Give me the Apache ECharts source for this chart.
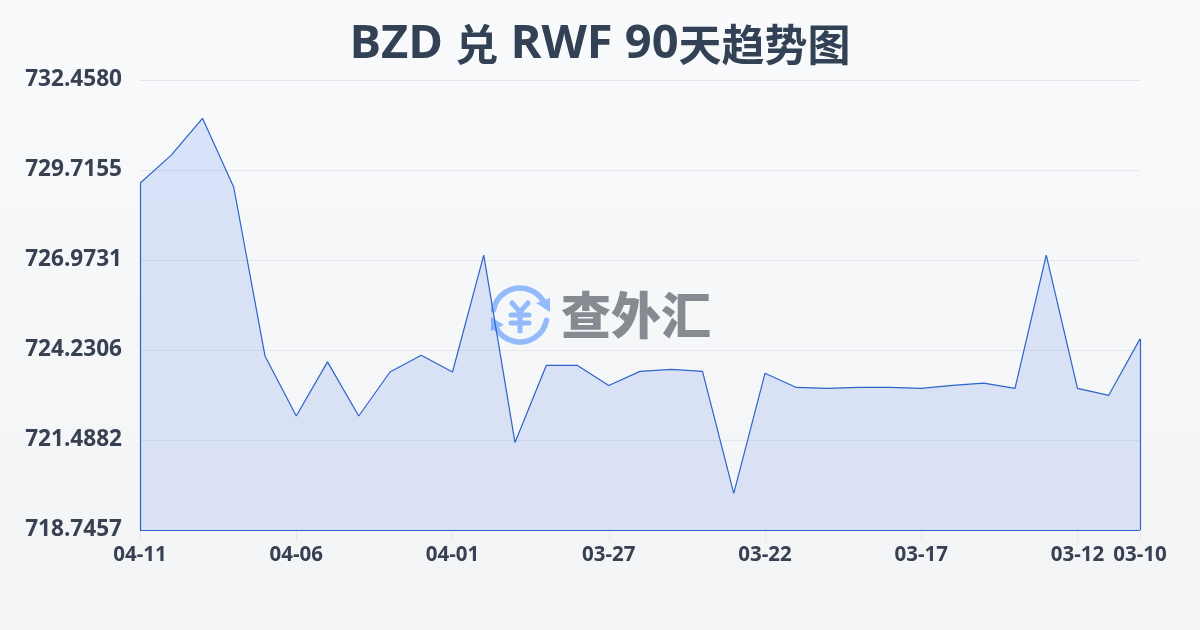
<!DOCTYPE html>
<html>
<head>
<meta charset="utf-8">
<style>html,body{margin:0;padding:0;background:#f8fafc}#c{width:1200px;height:630px}</style>
<script src="https://cdn.jsdelivr.net/npm/echarts@6/dist/echarts.min.js"></script>
</head>
<body>
<div id="c"></div>
<script>
const titleParts = [['a','BZD '],['b','兑'],['a',' RWF 90'],['b','天趋势图']];
const watermarkText = '查外汇';
const categories = ['04-11','04-10','04-09','04-08','04-07','04-06','04-05','04-04','04-03','04-02','04-01',
  '03-31','03-30','03-29','03-28','03-27','03-26','03-25','03-24','03-23','03-22',
  '03-21','03-20','03-19','03-18','03-17','03-16','03-15','03-14','03-13','03-12','03-11','03-10'];
const rates = [729.31,730.17,731.29,729.19,724.05,722.22,723.87,722.22,723.56,724.07,723.56,
  727.12,721.41,723.76,723.76,723.15,723.58,723.64,723.58,719.86,723.52,
  723.09,723.06,723.09,723.09,723.06,723.15,723.22,723.06,727.12,723.06,722.85,724.57];
const yMin = 718.7457;
const yMax = 732.4580;
const yStep = 2.74246;
const shownLabels = ['04-11','04-06','04-01','03-27','03-22','03-17','03-12','03-10'];

const textColor = '#374151';
const titleColor = '#334155';
const lineColor = '#2d64c8';
const logoBlue = '#93bbfb';
const chart = echarts.init(document.getElementById('c'), null, {renderer:'canvas'});
const first = categories[0], last = categories[categories.length-1];
const edge = {lineStyle:{color:lineColor,width:1.2,type:'solid'}};
chart.setOption({
  animation:false,
  backgroundColor:new echarts.graphic.LinearGradient(0,0,0,1,[{offset:0,color:'#f8fafc'},{offset:1,color:'#f3f4f6'}]),
  title:{text:titleParts.map(p=>`{${p[0]}|${p[1]}}`).join(''),left:'center',top:10,itemGap:0,
    textStyle:{rich:{
      a:{fontFamily:'"Open Sans",sans-serif',fontSize:47,fontWeight:'bold',color:titleColor,lineHeight:60},
      b:{fontFamily:'"Noto Sans CJK SC",sans-serif',fontSize:43,fontWeight:'bold',color:titleColor,lineHeight:60}
    }}},
  grid:{left:140,right:60,top:80,bottom:100,containLabel:false},
  xAxis:{type:'category',data:categories,boundaryGap:false,
    axisLine:{show:false},
    axisTick:{show:true,length:11,lineStyle:{color:'#e5e7eb',width:1},
      interval:(i,v)=>shownLabels.includes(v)},
    axisLabel:{show:true,margin:15,interval:(i,v)=>shownLabels.includes(v),hideOverlap:false,
      fontFamily:'"Open Sans",sans-serif',fontSize:20.5,fontWeight:'bold',color:textColor},
    splitLine:{show:false}},
  yAxis:{type:'value',min:yMin,max:yMax,interval:yStep,
    axisLine:{show:false},axisTick:{show:false},
    axisLabel:{margin:18,fontFamily:'"Open Sans",sans-serif',fontSize:22.6,fontWeight:'bold',color:textColor,
      padding:[0,0,3,0],formatter:v=>v.toFixed(4)},
    splitLine:{show:true,lineStyle:{color:'#e5e7eb',width:1}}},
  graphic:[{type:'group',z:0,zlevel:0,silent:true,children:[
    {type:'arc',shape:{cx:520,cy:315,r:27,startAngle:-2.95,endAngle:-0.35},style:{stroke:logoBlue,lineWidth:5.5,fill:null,lineCap:'round'}},
    {type:'arc',shape:{cx:520,cy:315,r:27,startAngle:0.2,endAngle:2.75},style:{stroke:logoBlue,lineWidth:5.5,fill:null,lineCap:'round'}},
    {type:'polygon',shape:{points:[[550,298],[550,312],[536,303]]},style:{fill:logoBlue}},
    {type:'polygon',shape:{points:[[491,317],[491,331],[504,325]]},style:{fill:logoBlue}},
    {type:'polyline',shape:{points:[[512,303],[520,312],[528,303]]},style:{stroke:logoBlue,lineWidth:5,fill:null,lineCap:'round'}},
    {type:'line',shape:{x1:511,y1:315,x2:529,y2:315},style:{stroke:logoBlue,lineWidth:5,lineCap:'round'}},
    {type:'line',shape:{x1:511,y1:323,x2:529,y2:323},style:{stroke:logoBlue,lineWidth:5,lineCap:'round'}},
    {type:'line',shape:{x1:520,y1:312,x2:520,y2:331},style:{stroke:logoBlue,lineWidth:5,lineCap:'round'}},
    {type:'text',x:636,y:315,style:{text:watermarkText,fill:'#868a91',font:'900 50px "Noto Sans CJK SC"',align:'center',verticalAlign:'middle'}}
  ]}],
  series:[{type:'line',data:rates,symbol:'none',smooth:false,z:5,
    lineStyle:{color:lineColor,width:1.2},
    areaStyle:{origin:'start',opacity:1,color:new echarts.graphic.LinearGradient(0,0,0,1,[
      {offset:0,color:'rgba(37,99,235,0.15)'},{offset:1,color:'rgba(29,78,216,0.12)'}])},
    markLine:{silent:true,symbol:'none',animation:false,label:{show:false},...edge,
      data:[
        [{coord:[first,yMin]},{coord:[first,rates[0]]}],
        [{coord:[last,yMin]},{coord:[last,rates[rates.length-1]]}],
        [{coord:[first,yMin]},{coord:[last,yMin]}]
      ]}
  }]
});
</script>
</body>
</html>
